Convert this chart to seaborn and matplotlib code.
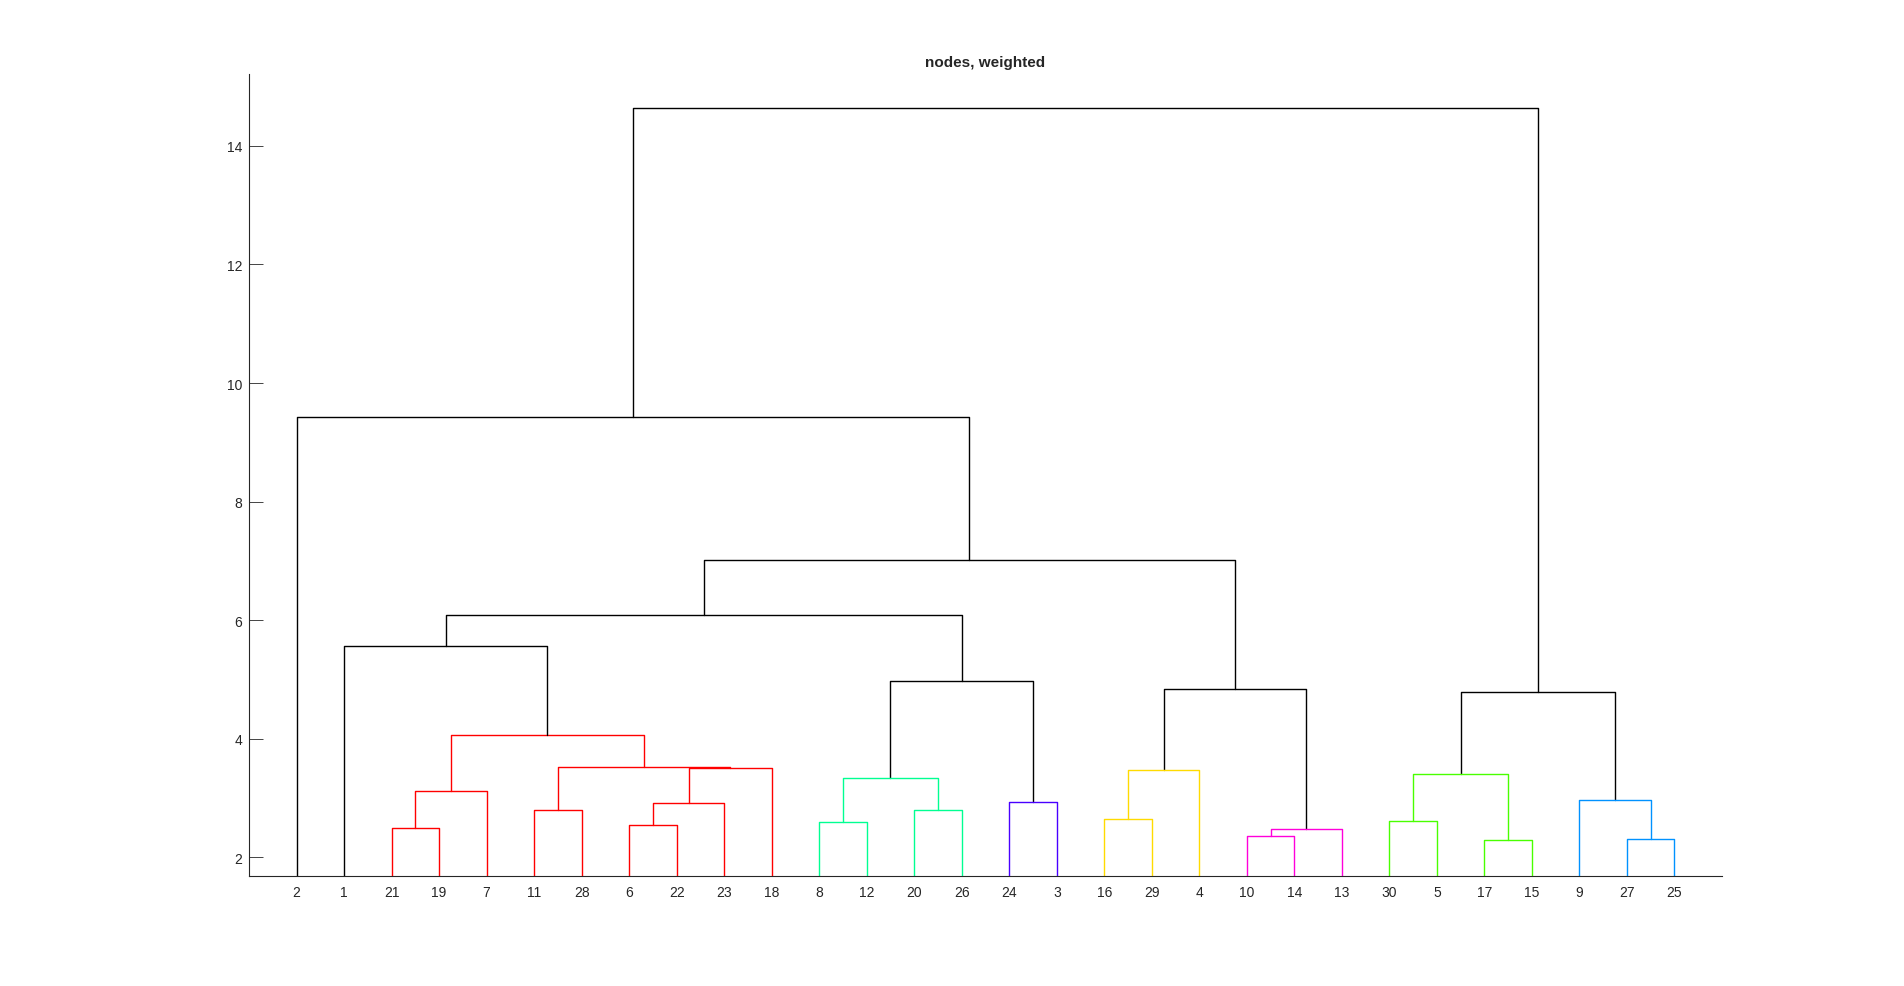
import numpy as np
import pandas as pd
import matplotlib
matplotlib.use("Agg")
import matplotlib.pyplot as plt
import seaborn as sns

# linkage: each merge joins a left and a right child at a height
# ints are leaf ids, strings are earlier merges
node_names = ["A", "B", "C", "D", "E", "F", "G", "H", "I",
              "J", "K", "L", "M", "N", "O",
              "P", "Q", "R", "S", "T", "U", "V",
              "W", "X", "Y", "Z", "AA", "AB", "ROOT"]
left_child = [21, "A", 11, 6, "D", "E", "C", "B", 1,
              8, 20, "J", 24, "L", "I",
              16, "P", 10, "R", "Q", "O", 2,
              30, 17, "W", 27, 9, "Y", "V"]
right_child = [19, 7, 28, 22, 23, 18, "F", "G", "H",
               12, 26, "K", 3, "M", "N",
               29, 4, 14, 13, "S", "T", "U",
               5, 15, "X", 25, "Z", "AA", "AB"]
heights = [2.50, 3.11, 2.80, 2.54, 2.91, 3.51, 3.53, 4.07, 5.57,
           2.60, 2.79, 3.33, 2.93, 4.97, 6.09,
           2.64, 3.48, 2.36, 2.48, 4.84, 7.02, 9.43,
           2.62, 2.29, 3.41, 2.31, 2.97, 4.79, 14.64]

# coloured clusters (MATLAB hsv(7))
group_roots = ["H", "Y", "Q", "L", "AA", "M", "S"]
group_colors = ["#ff0000", "#49ff00", "#ffdb00", "#00ff92",
                "#0092ff", "#4900ff", "#ff00db"]

title = "nodes, weighted"
y_ticks = [2, 4, 6, 8, 10, 12, 14]

children = {n: (l, r) for n, l, r in zip(node_names, left_child, right_child)}
height_of = dict(zip(node_names, heights))


def leaves(node):
    if node not in children:
        return [node]
    l, r = children[node]
    return leaves(l) + leaves(r)


order = leaves("ROOT")
xpos = {leaf: i + 1 for i, leaf in enumerate(order)}

# colour of each link: group colour if inside a group subtree, else black
link_color = {n: "k" for n in node_names}


def paint(node, col):
    if node in children:
        link_color[node] = col
        for c in children[node]:
            paint(c, col)


for root, col in zip(group_roots, group_colors):
    paint(root, col)


def node_x(node):
    if node not in children:
        return xpos[node]
    l, r = children[node]
    return (node_x(l) + node_x(r)) / 2


def node_y(node):
    return height_of.get(node, 0.0)


rows = []
for n in node_names:
    l, r = children[n]
    h = height_of[n]
    pts = [(node_x(l), node_y(l)), (node_x(l), h), (node_x(r), h), (node_x(r), node_y(r))]
    for k, (x, y) in enumerate(pts):
        rows.append({"link": n, "step": k, "x": x, "y": y, "color": link_color[n]})
segs = pd.DataFrame(rows)

sns.set_style("white")
plt.rcParams["font.family"] = ["Liberation Sans", "DejaVu Sans"]

fig = plt.figure(figsize=(19.04, 9.87), dpi=100)
ax = fig.add_axes([0.1308, 0.1118, 0.7736, 0.812])

palette = {c: c for c in segs["color"].unique()}
sns.lineplot(data=segs, x="x", y="y", units="link", estimator=None, sort=False,
             hue="color", palette=palette, legend=False, linewidth=1.0, ax=ax)

ax.set_xlim(0, 31)
ax.set_ylim(1.69, 15.21)
ax.set_xticks(range(1, len(order) + 1))
ax.set_xticklabels([str(v) for v in order])
ax.set_yticks(y_ticks)
ax.set_xlabel("")
ax.set_ylabel("")

for side in ["top", "right"]:
    ax.spines[side].set_visible(False)
for side in ["left", "bottom"]:
    ax.spines[side].set_color("#262626")
    ax.spines[side].set_linewidth(0.8)

ax.tick_params(axis="both", direction="in", length=10, width=0.6,
               colors="#262626", labelsize=10, bottom=True, left=True)
ax.tick_params(axis="x", pad=7)
ax.tick_params(axis="y", pad=5)

ax.set_title(title, fontsize=11, fontweight="bold", pad=6)

fig.savefig("out.png", dpi=100, facecolor="white")
